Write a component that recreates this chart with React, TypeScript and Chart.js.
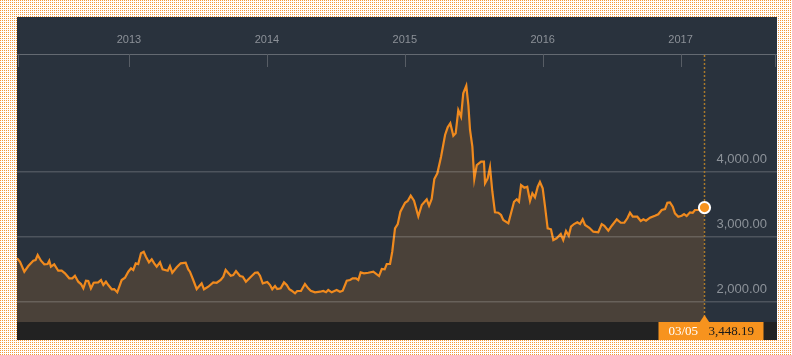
import React, { useEffect, useRef } from "react";
import { Chart, registerables } from "chart.js";

Chart.register(...registerables);

// Decimal-year position of each observation
const times: number[] = [
  2012.188, 2012.21, 2012.241, 2012.27, 2012.306, 2012.323, 2012.338, 2012.362, 2012.386, 2012.41,
  2012.422, 2012.434, 2012.458, 2012.487, 2012.512, 2012.536, 2012.567, 2012.589, 2012.608, 2012.632,
  2012.652, 2012.669, 2012.688, 2012.705, 2012.724, 2012.744, 2012.777, 2012.797, 2012.814, 2012.833,
  2012.85, 2012.875, 2012.893, 2012.915, 2012.947, 2012.971, 2012.995,
  2013.015, 2013.031, 2013.049, 2013.067, 2013.087, 2013.107, 2013.123, 2013.145, 2013.165, 2013.183,
  2013.201, 2013.225, 2013.244, 2013.281, 2013.297, 2013.314, 2013.346, 2013.375, 2013.411, 2013.43,
  2013.442, 2013.466, 2013.491, 2013.527, 2013.544, 2013.575, 2013.611, 2013.636, 2013.665, 2013.684,
  2013.701, 2013.738, 2013.756, 2013.776, 2013.805, 2013.825, 2013.848, 2013.877, 2013.914, 2013.933,
  2013.95, 2013.97,
  2014.003, 2014.023, 2014.039, 2014.059, 2014.075, 2014.1, 2014.124, 2014.144, 2014.163, 2014.18,
  2014.204, 2014.22, 2014.247, 2014.276, 2014.3, 2014.318, 2014.349, 2014.385, 2014.409, 2014.429,
  2014.445, 2014.47, 2014.506, 2014.53, 2014.55, 2014.579, 2014.603, 2014.622, 2014.646, 2014.663,
  2014.68, 2014.704, 2014.735, 2014.772, 2014.813, 2014.833, 2014.854, 2014.869, 2014.893, 2014.909,
  2014.929, 2014.949, 2014.968,
  2015.002, 2015.021, 2015.043, 2015.067, 2015.098, 2015.123, 2015.159, 2015.176, 2015.195, 2015.214,
  2015.236, 2015.263, 2015.292, 2015.311, 2015.33, 2015.352, 2015.369, 2015.388, 2015.408, 2015.424,
  2015.446, 2015.461, 2015.473, 2015.49, 2015.504, 2015.522, 2015.553, 2015.574, 2015.582, 2015.601,
  2015.618, 2015.635, 2015.654, 2015.678, 2015.698, 2015.714, 2015.751, 2015.792, 2015.812, 2015.828,
  2015.843, 2015.867, 2015.888, 2015.908, 2015.925, 2015.944, 2015.964, 2015.98,
  2016.0, 2016.017, 2016.036, 2016.06, 2016.077, 2016.101, 2016.131, 2016.149, 2016.169, 2016.189,
  2016.205, 2016.227, 2016.251, 2016.271, 2016.29, 2016.307, 2016.338, 2016.367, 2016.403, 2016.428,
  2016.447, 2016.476, 2016.501, 2016.537, 2016.566, 2016.592, 2016.614, 2016.633, 2016.653, 2016.686,
  2016.711, 2016.73, 2016.749, 2016.778, 2016.814, 2016.838, 2016.863, 2016.887, 2016.904, 2016.923,
  2016.943, 2016.959, 2016.983,
  2017.008, 2017.025, 2017.044, 2017.068, 2017.088, 2017.104, 2017.128, 2017.153, 2017.172,
];

// Index level at each observation
const values: number[] = [
  2668, 2615, 2462, 2549, 2631, 2642, 2718, 2631, 2575, 2580,
  2631, 2538, 2575, 2477, 2477, 2437, 2360, 2360, 2400, 2308,
  2272, 2206, 2323, 2318, 2206, 2292, 2298, 2334, 2257, 2308,
  2257, 2191, 2195, 2145, 2334, 2369, 2462,
  2514, 2488, 2591, 2580, 2745, 2769, 2692, 2606, 2652, 2591,
  2538, 2606, 2498, 2477, 2549, 2446, 2529, 2591, 2600, 2498,
  2462, 2334, 2195, 2283, 2191, 2231, 2298, 2292, 2334, 2385,
  2488, 2400, 2411, 2472, 2395, 2385, 2308, 2369, 2446, 2452,
  2400, 2283,
  2303, 2257, 2191, 2242, 2195, 2206, 2298, 2257, 2191, 2169,
  2129, 2165, 2165, 2272, 2206, 2169, 2145, 2154, 2165, 2145,
  2180, 2145, 2180, 2154, 2169, 2323, 2334, 2360, 2360, 2334,
  2452, 2437, 2446, 2462, 2395, 2503, 2498, 2580, 2580, 2769,
  3129, 3195, 3385,
  3523, 3549, 3631, 3554, 3314, 3488, 3575, 3477, 3580, 3888,
  3975, 4231, 4565, 4683, 4745, 4554, 4591, 4949, 4846, 5206,
  5323, 5026, 4642, 4385, 3888, 4103, 4154, 4154, 3822, 3898,
  4068, 3692, 3375, 3369, 3334, 3257, 3206, 3538, 3575, 3538,
  3795, 3754, 3769, 3549, 3668, 3606, 3769, 3842,
  3745, 3462, 3129, 3114, 2949, 2975, 3042, 2949, 3088, 3015,
  3154, 3195, 3222, 3195, 3268, 3180, 3138, 3077, 3068, 3195,
  3169, 3092, 3169, 3268, 3215, 3215, 3283, 3369, 3308, 3308,
  3242, 3268, 3246, 3292, 3323, 3345, 3411, 3426, 3523, 3529,
  3462, 3360, 3308,
  3323, 3349, 3318, 3375, 3369, 3411, 3411, 3437, 3448.19,
];

const yearTicks: number[] = [2013, 2014, 2015, 2016, 2017];
const gridValues: number[] = [2000, 3000, 4000];
const lastDateLabel = "03/05";
const lastValueLabel = "3,448.19";

const X_MIN = 2012.188;
const X_MAX = 2017.699;
const Y_MIN = 1688;
const Y_MAX = 5811;

const PANEL = "#29323d";
const ORANGE = "#f7931e";
const LINE = "#f08a1e";
const FILL = "#4a4139";
const SANS = '"Liberation Sans", Arial, Helvetica, sans-serif';
const SERIF = '"Liberation Serif", "Times New Roman", serif';

const fmt = (v: number) =>
  v.toLocaleString("en-US", { minimumFractionDigits: 2, maximumFractionDigits: 2 });

const overlayPlugin = {
  id: "overlay",
  beforeDraw(chart: any) {
    const { ctx, width, height } = chart;
    ctx.save();
    ctx.fillStyle = PANEL;
    ctx.fillRect(0, 0, width, height);
    ctx.restore();
  },
  afterDatasetsDraw(chart: any) {
    const { ctx, chartArea: a, width, height } = chart;
    const xs = chart.scales.x;
    const ys = chart.scales.y;
    ctx.save();

    // horizontal grid lines
    ctx.strokeStyle = "rgba(255,255,255,0.17)";
    ctx.lineWidth = 1.5;
    gridValues.forEach((v) => {
      const py = ys.getPixelForValue(v);
      ctx.beginPath();
      ctx.moveTo(a.left, py);
      ctx.lineTo(a.right, py);
      ctx.stroke();
    });

    // y labels
    ctx.font = "13px " + SANS;
    ctx.fillStyle = "#8c9299";
    ctx.textAlign = "right";
    ctx.textBaseline = "middle";
    gridValues.forEach((v) => {
      ctx.fillText(fmt(v), a.right - 10, ys.getPixelForValue(v) - 12.5);
    });

    // top axis line
    ctx.strokeStyle = "#646a72";
    ctx.lineWidth = 1.2;
    ctx.beginPath();
    ctx.moveTo(a.left, a.top + 0.5);
    ctx.lineTo(a.right, a.top + 0.5);
    ctx.stroke();

    // ticks
    ctx.strokeStyle = "#575d65";
    ctx.lineWidth = 1;
    const tickXs = [a.left + 1.5, ...yearTicks.map((t) => Math.round(xs.getPixelForValue(t)) + 0.5), a.right - 1.5];
    tickXs.forEach((px) => {
      ctx.beginPath();
      ctx.moveTo(px, a.top);
      ctx.lineTo(px, a.top + 13);
      ctx.stroke();
    });

    // year labels
    ctx.font = "11px " + SANS;
    ctx.fillStyle = "#8c9198";
    ctx.textAlign = "center";
    ctx.textBaseline = "middle";
    yearTicks.forEach((t) => {
      ctx.fillText(String(t), xs.getPixelForValue(t), a.top - 14);
    });

    const last = times.length - 1;
    const lx = Math.round(xs.getPixelForValue(times[last])) + 0.5;
    const ly = ys.getPixelForValue(values[last]);

    // dotted vertical line
    ctx.strokeStyle = "#a8792c";
    ctx.lineWidth = 1.5;
    ctx.setLineDash([2, 2]);
    ctx.beginPath();
    ctx.moveTo(lx, a.top + 1);
    ctx.lineTo(lx, a.bottom);
    ctx.stroke();
    ctx.setLineDash([]);

    // bottom strip
    ctx.fillStyle = "#222222";
    ctx.fillRect(0, a.bottom, width, height - a.bottom);

    // label box
    ctx.fillStyle = ORANGE;
    ctx.fillRect(lx - 46, a.bottom, 105, height - a.bottom);
    ctx.beginPath();
    ctx.moveTo(lx - 5, a.bottom + 0.5);
    ctx.lineTo(lx, a.bottom - 7);
    ctx.lineTo(lx + 5, a.bottom + 0.5);
    ctx.closePath();
    ctx.fill();

    ctx.font = "13px " + SERIF;
    ctx.textAlign = "left";
    ctx.textBaseline = "middle";
    ctx.fillStyle = "#ffffff";
    ctx.fillText(lastDateLabel, lx - 36, a.bottom + 9.5);
    ctx.fillStyle = "#1a1a1a";
    ctx.fillText(lastValueLabel, lx + 4, a.bottom + 9.5);

    // end marker
    ctx.beginPath();
    ctx.arc(lx, ly, 5.6, 0, Math.PI * 2);
    ctx.fillStyle = ORANGE;
    ctx.fill();
    ctx.strokeStyle = "#ffffff";
    ctx.lineWidth = 2;
    ctx.stroke();

    ctx.restore();
  },
};

export default function App() {
  const canvasRef = useRef<HTMLCanvasElement | null>(null);
  const bgRef = useRef<HTMLDivElement | null>(null);

  useEffect(() => {
    // dotted page background: 1px orange dot every 2px
    const tile = document.createElement("canvas");
    tile.width = 2;
    tile.height = 2;
    const tctx = tile.getContext("2d");
    if (tctx && bgRef.current) {
      tctx.fillStyle = "#ffffff";
      tctx.fillRect(0, 0, 2, 2);
      tctx.fillStyle = "#f4983a";
      tctx.fillRect(0, 0, 1, 1);
      bgRef.current.style.backgroundImage = `url(${tile.toDataURL()})`;
    }

    const canvas = canvasRef.current;
    if (!canvas) return;
    const chart = new Chart(canvas, {
      type: "line",
      data: {
        datasets: [
          {
            data: times.map((t, i) => ({ x: t, y: values[i] })),
            borderColor: LINE,
            borderWidth: 2.2,
            backgroundColor: FILL,
            fill: "start",
            pointRadius: 0,
            tension: 0,
          },
        ],
      },
      options: {
        animation: false,
        responsive: false,
        devicePixelRatio: 1,
        events: [],
        layout: { padding: { top: 37, bottom: 18, left: 0, right: 0 } },
        plugins: { legend: { display: false }, tooltip: { enabled: false } },
        scales: {
          x: { type: "linear", min: X_MIN, max: X_MAX, display: false },
          y: { type: "linear", min: Y_MIN, max: Y_MAX, display: false },
        },
      },
      plugins: [overlayPlugin],
    });
    return () => chart.destroy();
  }, []);

  return (
    <div
      ref={bgRef}
      style={{
        position: "fixed",
        left: 0,
        top: 0,
        width: "100%",
        height: "100%",
        backgroundColor: "#ffffff",
        backgroundRepeat: "repeat",
        imageRendering: "pixelated",
      }}
    >
      <canvas
        ref={canvasRef}
        width={760}
        height={323}
        style={{ position: "absolute", left: 17, top: 17, width: 760, height: 323 }}
      />
    </div>
  );
}
